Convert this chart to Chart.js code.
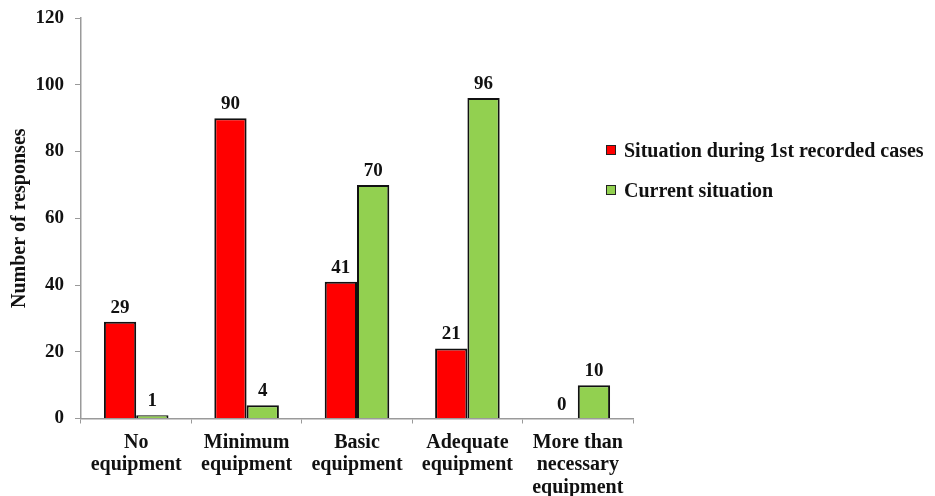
<!DOCTYPE html>
<html>
<head>
<meta charset="utf-8">
<script src="https://cdn.jsdelivr.net/npm/chart.js@4.4.1/dist/chart.umd.min.js"></script>
<style>
    html, body { margin: 0; padding: 0; background: #fff; }
    #wrap { position: relative; width: 935px; height: 496px; }
    #legend { position: absolute; left: 606px; top: 138px; font: bold 20px "Liberation Serif", "Times New Roman", serif; color: #111; }
    .item { display: flex; align-items: center; height: 24px; margin-bottom: 16px; white-space: nowrap; }
    .swatch { width: 8px; height: 8px; border: 1.5px solid #222; margin-right: 8px; }
</style>
</head>
<body>
<div id="wrap">
    <canvas id="chart" width="935" height="496"></canvas>
    <div id="legend"></div>
</div>
<script>
// Données
const categories = [
    ['No', 'equipment'],
    ['Minimum', 'equipment'],
    ['Basic', 'equipment'],
    ['Adequate', 'equipment'],
    ['More than', 'necessary', 'equipment']
];
const seriesNames = ['Situation during 1st recorded cases', 'Current situation'];
const firstCases = [29, 90, 41, 21, 0];
const currentSituation = [1, 4, 70, 96, 10];
const yTicks = [0, 20, 40, 60, 80, 100, 120];
const seriesColors = ['#FF0000', '#92D050'];

const serif = '"Liberation Serif", "Times New Roman", serif';
const axisGrey = '#9a9a9a';

// Plugin pour écrire les valeurs au-dessus des barres
const valueLabels = {
    id: 'valueLabels',
    afterDatasetsDraw(chart) {
        const ctx = chart.ctx;
        ctx.save();
        ctx.font = 'bold 19px ' + serif;
        ctx.fillStyle = '#111';
        ctx.textAlign = 'center';
        ctx.textBaseline = 'alphabetic';
        chart.data.datasets.forEach((ds, i) => {
            chart.getDatasetMeta(i).data.forEach((bar, j) => {
                ctx.fillText(String(ds.data[j]), bar.x, bar.y - 9);
            });
        });
        ctx.restore();
    }
};

const ctx = document.getElementById('chart').getContext('2d');
const chart = new Chart(ctx, {
    type: 'bar',
    data: {
        labels: categories,
        datasets: [
            { label: seriesNames[0], data: firstCases, backgroundColor: seriesColors[0], borderColor: '#111', borderWidth: 2 },
            { label: seriesNames[1], data: currentSituation, backgroundColor: seriesColors[1], borderColor: '#111', borderWidth: 2 }
        ]
    },
    options: {
        responsive: false,
        animation: false,
        categoryPercentage: 0.585,
        barPercentage: 1,
        layout: { padding: { top: 18, right: 302, left: 0, bottom: 0 } },
        plugins: {
            legend: { display: false },
            tooltip: { enabled: false }
        },
        scales: {
            x: {
                grid: { drawOnChartArea: false, drawTicks: true, tickLength: 5, color: axisGrey, offset: true },
                border: { color: axisGrey, width: 1.5 },
                ticks: { color: '#111', padding: 8, maxRotation: 0, autoSkip: false, font: { family: serif, size: 20, weight: 'bold', lineHeight: 1.12 } },
                afterFit: scale => { scale.height = 77.5; }
            },
            y: {
                min: 0,
                max: 120,
                afterBuildTicks: scale => { scale.ticks = yTicks.map(v => ({ value: v })); },
                grid: { drawOnChartArea: false, drawTicks: true, tickLength: 6, color: axisGrey },
                border: { color: axisGrey, width: 1.5 },
                ticks: { color: '#111', padding: 11, font: { family: serif, size: 19, weight: 'bold' } },
                title: { display: true, text: 'Number of responses', color: '#111', padding: { top: 8, bottom: 0 }, font: { family: serif, size: 20, weight: 'bold' } },
                afterFit: scale => {
                    scale.width = 81;
                    scale.paddingTop = 0;
                    scale.paddingBottom = 0;
                }
            }
        }
    },
    plugins: [valueLabels]
});

// Légende en HTML, construite à partir des séries
const legend = document.getElementById('legend');
seriesNames.forEach((name, i) => {
    const item = document.createElement('div');
    item.className = 'item';
    const sw = document.createElement('span');
    sw.className = 'swatch';
    sw.style.background = seriesColors[i];
    const txt = document.createElement('span');
    txt.textContent = name;
    item.appendChild(sw);
    item.appendChild(txt);
    legend.appendChild(item);
});
</script>
</body>
</html>
